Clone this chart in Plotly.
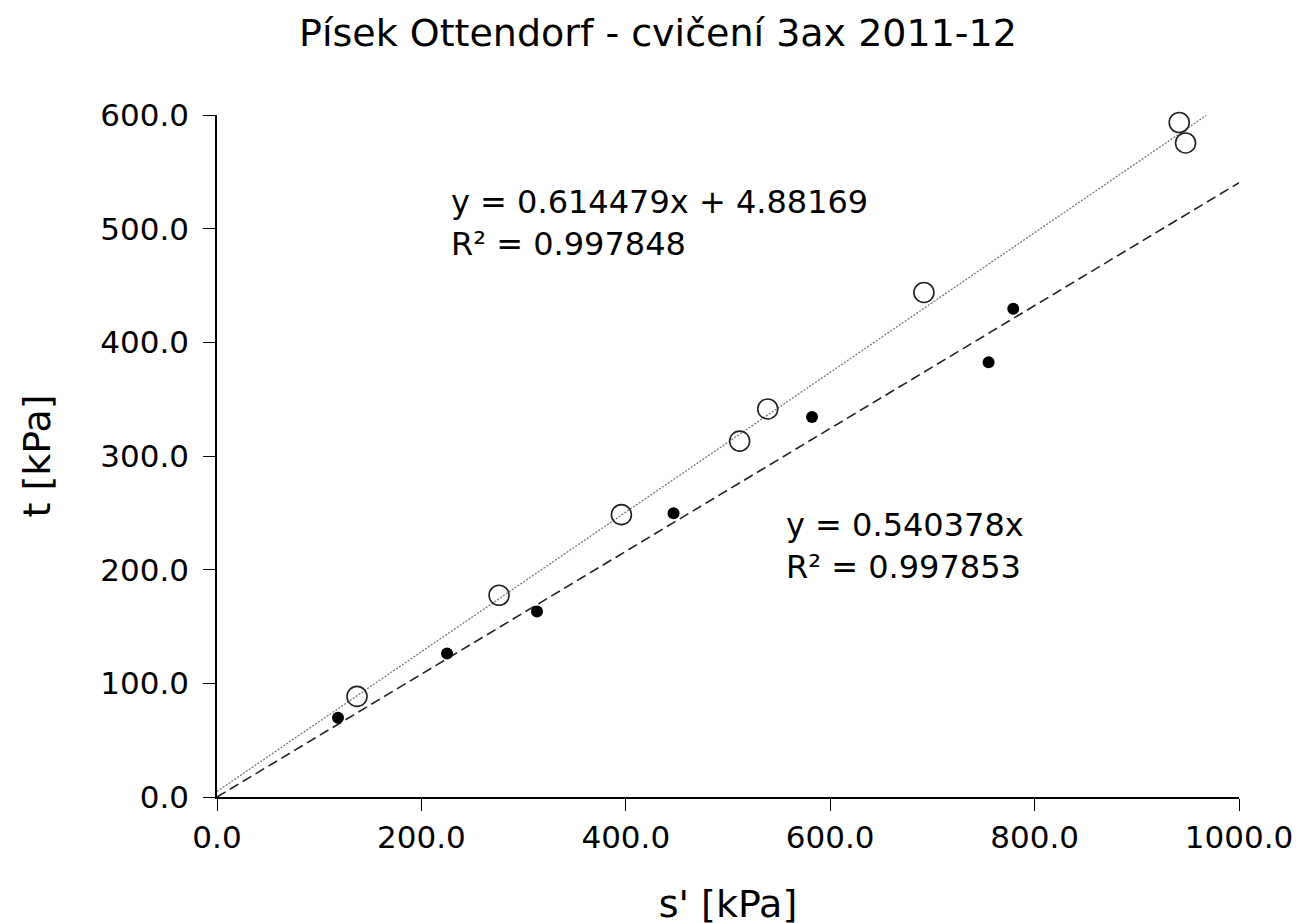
import plotly.graph_objects as go
import numpy as np

# Open circles (first series)
s_open = [137.0, 276.0, 395.7, 511.4, 538.9, 691.7, 941.5, 947.7]
t_open = [88.5, 177.5, 248.4, 313.1, 341.4, 443.9, 593.4, 575.4]

# Filled dots (second series)
s_fill = [118.4, 225.1, 313.1, 446.7, 582.2, 755.0, 779.1]
t_fill = [69.7, 126.2, 163.1, 249.6, 334.4, 382.4, 429.5]

# Trend lines
slope_open, icpt_open = 0.614479, 4.88169
slope_fill, icpt_fill = 0.540378, 0.0
trend_x_open = [0.0, 968.0]
trend_x_fill = [0.0, 1000.0]

eq_open = "y = 0.614479x + 4.88169<br>R² = 0.997848"
eq_fill = "y = 0.540378x<br>R² = 0.997853"

x_ticks = [0, 200, 400, 600, 800, 1000]
y_ticks = [0, 100, 200, 300, 400, 500, 600]

FONT = "DejaVu Sans"

fig = go.Figure()

tx1 = np.array(trend_x_open)
fig.add_trace(go.Scatter(x=tx1, y=slope_open * tx1 + icpt_open, mode="lines",
                         line=dict(color="#777777", width=1.3, dash="2px,1.5px"),
                         showlegend=False, hoverinfo="skip"))
tx2 = np.array(trend_x_fill)
fig.add_trace(go.Scatter(x=tx2, y=slope_fill * tx2 + icpt_fill, mode="lines",
                         line=dict(color="#222222", width=1.6, dash="10px,5px"),
                         showlegend=False, hoverinfo="skip"))

fig.add_trace(go.Scatter(x=s_open, y=t_open, mode="markers",
                         marker=dict(symbol="circle-open", size=20, color="#222222",
                                     line=dict(width=1.6, color="#222222")),
                         showlegend=False, cliponaxis=False))
fig.add_trace(go.Scatter(x=s_fill, y=t_fill, mode="markers",
                         marker=dict(symbol="circle", size=12, color="black"),
                         showlegend=False, cliponaxis=False))

fig.add_annotation(x=227, y=542, xref="x", yref="y", text=eq_open, showarrow=False,
                   xanchor="left", yanchor="top", align="left",
                   font=dict(family=FONT, size=32, color="black"))
fig.add_annotation(x=555, y=258, xref="x", yref="y", text=eq_fill, showarrow=False,
                   xanchor="left", yanchor="top", align="left",
                   font=dict(family=FONT, size=32, color="black"))

axis_common = dict(showgrid=False, zeroline=False, showline=True, linecolor="black",
                   linewidth=1.5, ticks="outside", ticklen=12, tickwidth=1.2,
                   tickcolor="black", tickformat=".1f",
                   tickfont=dict(family=FONT, size=31, color="black"))

fig.update_layout(
    width=1300, height=923,
    paper_bgcolor="white", plot_bgcolor="white",
    margin=dict(l=209, r=69, t=107, b=134),
    title=dict(text="Písek Ottendorf - cvičení 3ax 2011-12", x=0.5, xanchor="center",
               y=0.973, yanchor="middle",
               font=dict(family=FONT, size=38, color="black")),
    xaxis=dict(range=[0, 1000], tickvals=x_ticks,
               title=dict(text="s' [kPa]", standoff=36,
                          font=dict(family=FONT, size=38, color="black")),
               **axis_common),
    yaxis=dict(range=[0, 600], tickvals=y_ticks, ticklabelstandoff=8,
               title=dict(text="t [kPa]", standoff=38,
                          font=dict(family=FONT, size=38, color="black")),
               **axis_common),
)

fig.write_html("out.html")
